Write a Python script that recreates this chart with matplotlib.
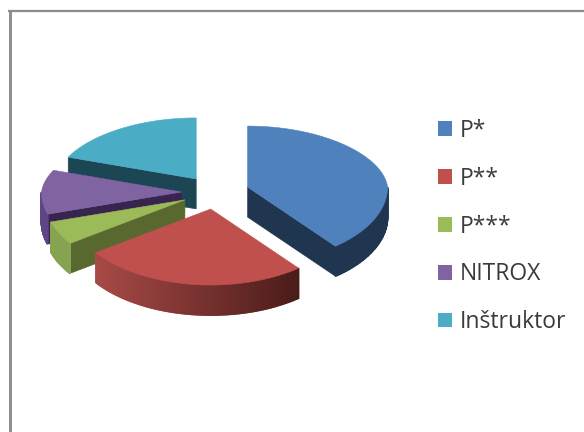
import numpy as np
import matplotlib
matplotlib.use("Agg")
import matplotlib.pyplot as plt
from matplotlib.patches import Polygon, Patch
from matplotlib.colors import to_rgb

labels = ["P*", "P**", "P***", "NITROX", "Inštruktor"]
values = [39.2, 26.1, 5.0, 10.5, 19.2]
top_colors = ["#4f81bd", "#c0504d", "#9bbb59", "#8064a2", "#4bacc6"]
face_colors = ["#1f3550", "#4a1c1a", "#58682f", "#38244f", "#1d4654"]
wall_left = ["#1f3550", "#a84a46", "#86a352", "#5f4585", "#1d4654"]
wall_right = ["#1f3550", "#4a1c1a", "#86a352", "#5f4585", "#1d4654"]

W, H = 584, 432
fig = plt.figure(figsize=(W / 100, H / 100), dpi=100)
ax = fig.add_axes([0, 0, 1, 1])
ax.set_xlim(0, W)
ax.set_ylim(H, 0)
ax.axis("off")

cx, cy = 215.5, 192.6
rx = 140
ry_back, ry_front = 61, 76
ex, ey = 34, 16.6
depth = 30


def pt(t, ox, oy):
    c = np.cos(t)
    rxx = rx * (1 - 0.06 * np.clip(c, 0, 1))
    ryy = np.where(c > 0, ry_back, ry_front)
    return ox + rxx * np.sin(t), oy - ryy * c


edges = np.concatenate([[0], np.cumsum(values)]) / sum(values) * 2 * np.pi
order = [4, 3, 0, 2, 1]
for i in order:
    a, b = edges[i], edges[i + 1]
    mid = (a + b) / 2
    ox, oy = cx + ex * np.sin(mid), cy - ey * np.cos(mid)
    ts = np.linspace(a, b, 120)
    for t, show in ((a, a > np.pi), (b, b < np.pi)):
        if not show:
            continue
        x1, y1 = pt(t, ox, oy)
        ax.add_patch(Polygon([(ox, oy), (x1, y1), (x1, y1 + depth), (ox, oy + depth)],
                             fc=face_colors[i], ec=face_colors[i], lw=0.4))
    c_r, c_l = np.array(to_rgb(wall_right[i])), np.array(to_rgb(wall_left[i]))
    xall = pt(ts, ox, oy)[0]
    for t0, t1 in zip(ts[:-1], ts[1:]):
        if np.cos((t0 + t1) / 2) > 0.0:
            continue
        x0, y0 = pt(t0, ox, oy)
        x1, y1 = pt(t1, ox, oy)
        f = (x0 - xall.min()) / max(xall.max() - xall.min(), 1)
        col = c_l + (c_r - c_l) * f
        ax.add_patch(Polygon([(x0, y0), (x1, y1), (x1, y1 + depth), (x0, y0 + depth)],
                             fc=col, ec=col, lw=1.2))
    xs, ys = pt(ts, ox, oy)
    ax.add_patch(Polygon(np.r_[[(ox, oy)], np.c_[xs, ys]], fc=top_colors[i], ec=top_colors[i], lw=0.4))

ax.plot([9.5, 9.5], [H, 10], color="#8c8c8c", lw=2.1, solid_capstyle="butt")
ax.plot([8, W], [11, 11], color="#8c8c8c", lw=1.6, solid_capstyle="butt")

handles = [Patch(fc=c, ec="none", label=l) for c, l in zip(top_colors, labels)]
ax.legend(handles=handles, loc="upper left", bbox_to_anchor=(431 / W, 1 - 112 / H),
          frameon=False, prop={"family": "Open Sans", "size": 16.5},
          handlelength=0.61, handleheight=0.61, handletextpad=0.35, labelspacing=1.04,
          borderpad=0.3, borderaxespad=0, labelcolor="#3a3a3a")

fig.savefig("out.png", dpi=100, facecolor="white")
